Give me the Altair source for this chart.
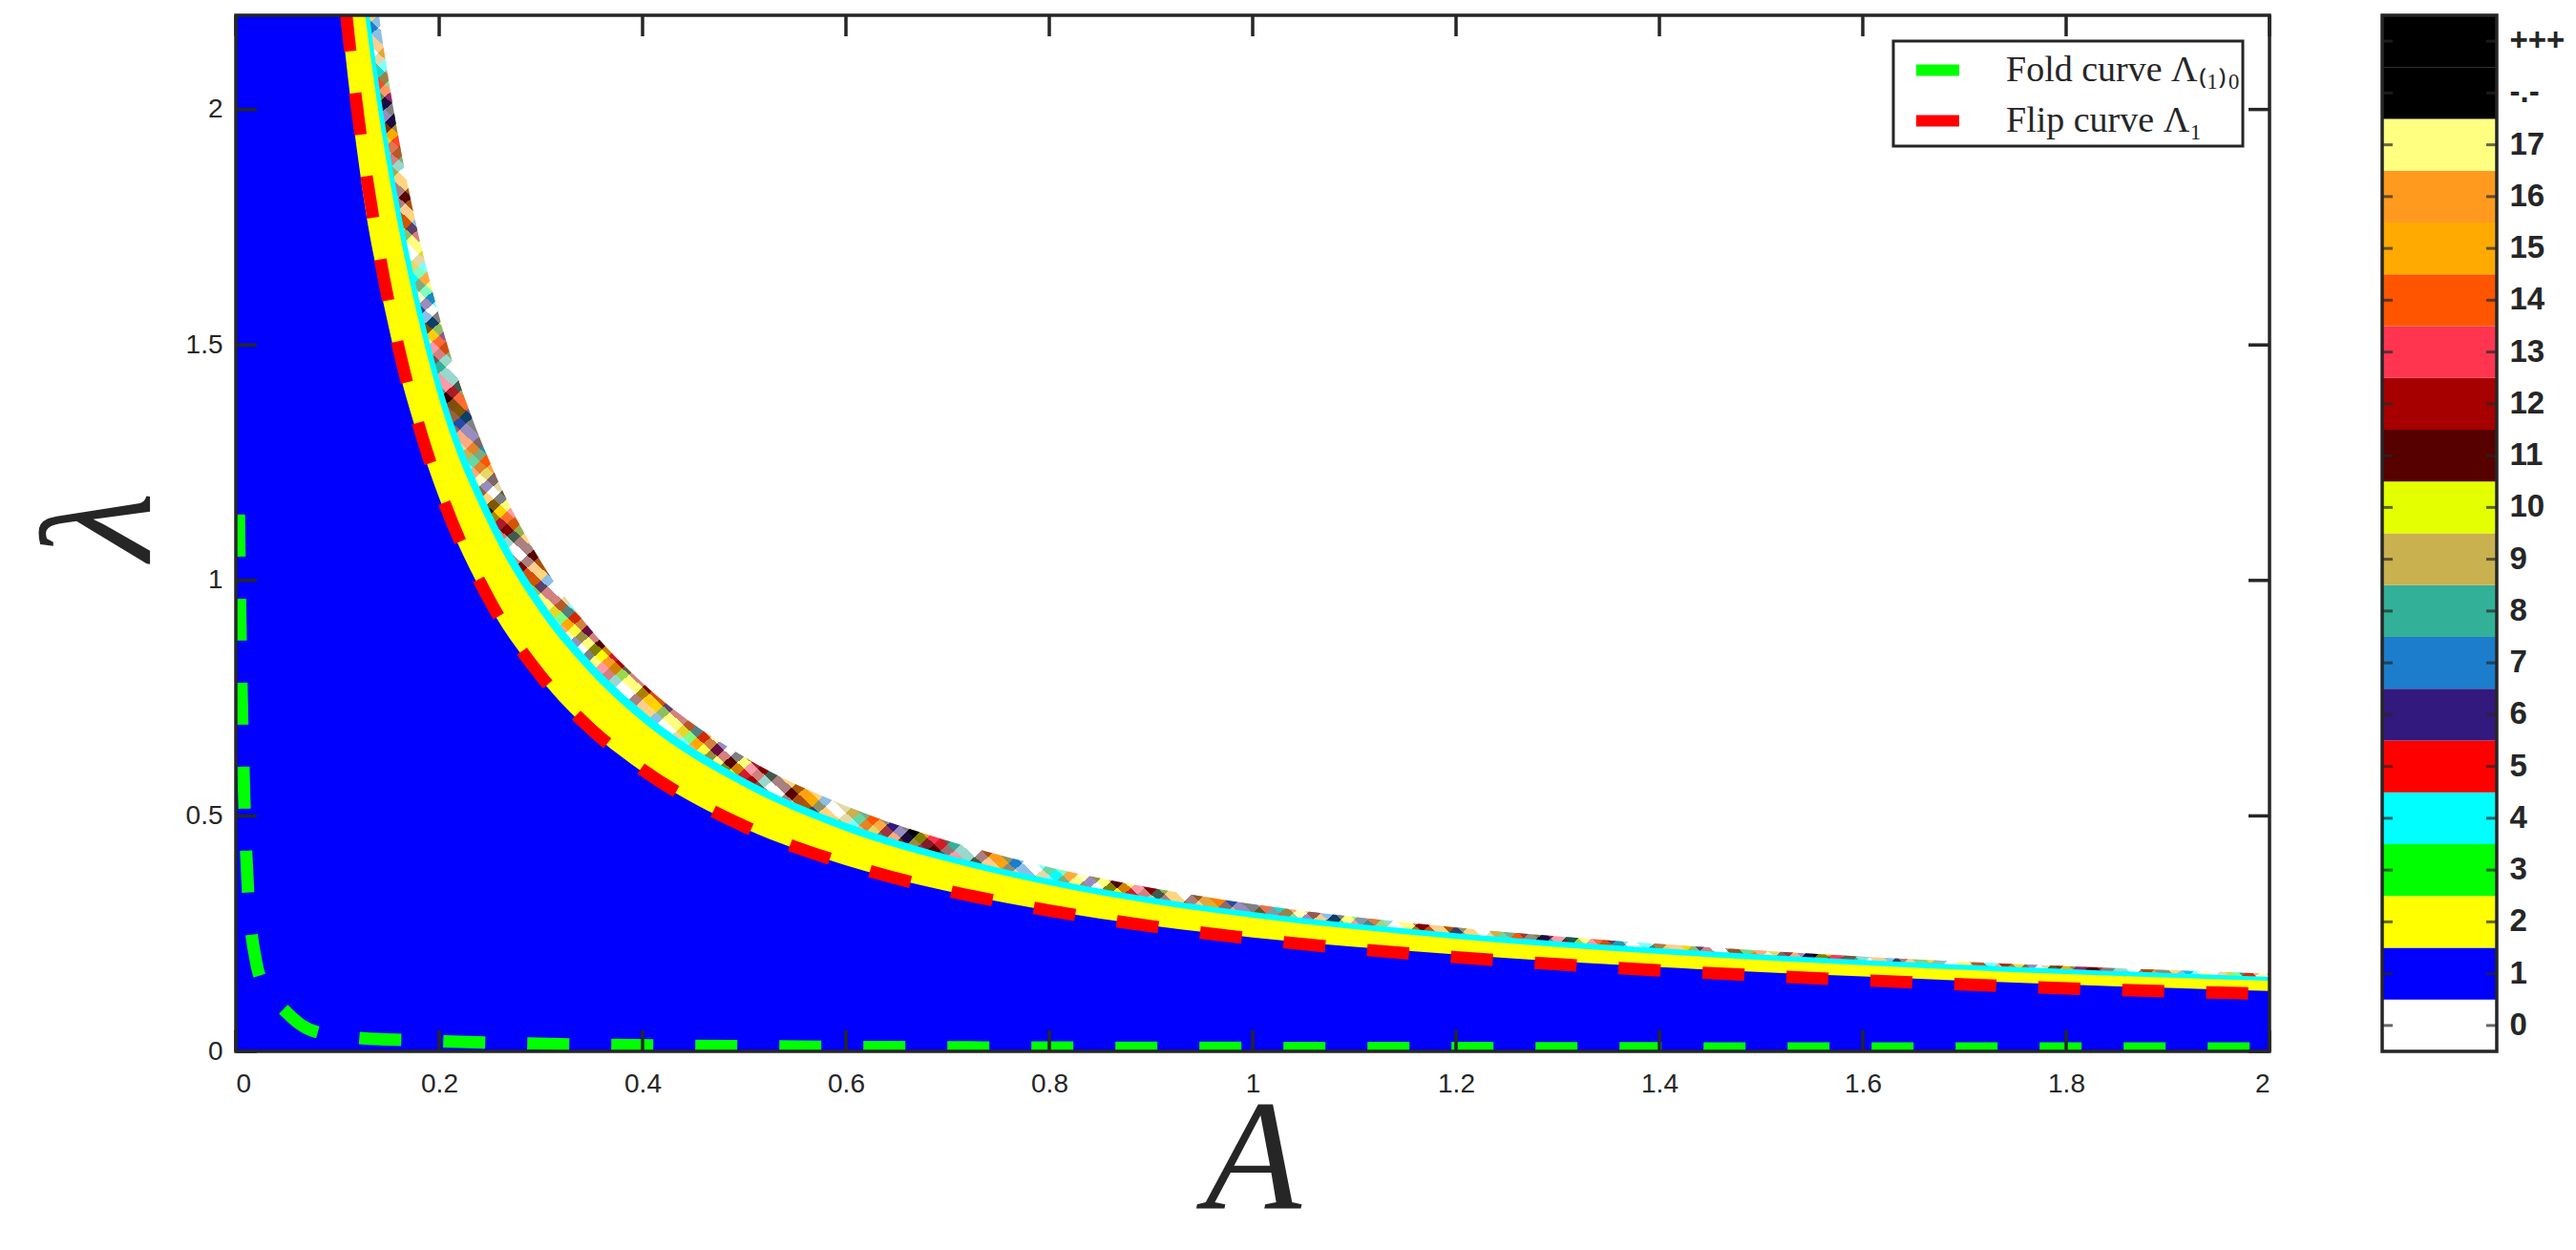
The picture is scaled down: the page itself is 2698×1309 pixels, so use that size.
import altair as alt
import pandas as pd

# lambda values of the region boundaries at each A
a_grid = [0.0, 0.10, 0.11, 0.12, 0.13, 0.14, 0.16, 0.18, 0.20, 0.25, 0.30, 0.35,
          0.40, 0.50, 0.60, 0.70, 0.80, 0.90, 1.00, 1.20, 1.40, 1.60, 1.80, 2.00]
lam_top_1 = [4.0, 2.28, 2.073, 1.90, 1.754, 1.643, 1.45, 1.30, 1.175, 0.944, 0.79, 0.677,
             0.593, 0.474, 0.395, 0.34, 0.299, 0.267, 0.242, 0.206, 0.179, 0.159, 0.142, 0.128]
lam_top_2 = [4.0, 2.80, 2.545, 2.333, 2.154, 2.0, 1.75, 1.55, 1.385, 1.112, 0.93, 0.80,
             0.70, 0.562, 0.468, 0.403, 0.353, 0.314, 0.284, 0.239, 0.207, 0.183, 0.164, 0.150]
lam_top_4 = [4.0, 2.89, 2.627, 2.408, 2.223, 2.064, 1.806, 1.60, 1.43, 1.148, 0.96, 0.825,
             0.723, 0.58, 0.485, 0.417, 0.366, 0.327, 0.296, 0.251, 0.219, 0.194, 0.175, 0.158]
lam_top_chaos = [4.0, 3.10, 2.82, 2.58, 2.38, 2.21, 1.94, 1.73, 1.56, 1.25, 1.04, 0.893,
                 0.782, 0.625, 0.521, 0.447, 0.391, 0.347, 0.313, 0.263, 0.228, 0.201, 0.181, 0.165]

# flip curve Lambda_1
flip_a = [0.10, 0.11, 0.12, 0.14, 0.16, 0.18, 0.20, 0.25, 0.30, 0.35, 0.40, 0.50,
          0.60, 0.70, 0.80, 0.90, 1.00, 1.20, 1.40, 1.60, 1.80, 2.00]
flip_lam = [2.39, 2.173, 1.99, 1.707, 1.494, 1.328, 1.195, 0.956, 0.797, 0.683, 0.598, 0.478,
            0.398, 0.341, 0.299, 0.266, 0.239, 0.200, 0.172, 0.151, 0.134, 0.122]

# fold curve Lambda_(1)_0
fold_a = [0.003, 0.005, 0.008, 0.012, 0.02, 0.03, 0.047, 0.065, 0.087, 0.125, 0.17,
          0.3, 0.5, 0.8, 1.2, 1.6, 2.0]
fold_lam = [1.14, 0.84, 0.56, 0.34, 0.19, 0.13, 0.089, 0.055, 0.037, 0.028, 0.024,
            0.016, 0.011, 0.008, 0.007, 0.006, 0.006]

fold_label = "Fold curve Λ₍₁₎₀"
flip_label = "Flip curve Λ₁"

x_ticks = [0, 0.2, 0.4, 0.6, 0.8, 1, 1.2, 1.4, 1.6, 1.8, 2]
y_ticks = [0, 0.5, 1, 1.5, 2]

# colour bar
cb_levels = ["0", "1", "2", "3", "4", "5", "6", "7", "8", "9", "10", "11", "12",
             "13", "14", "15", "16", "17", "-.-", "+++"]
cb_colors = ["#ffffff", "#0000ff", "#ffff00", "#00ff00", "#00ffff", "#ff0000", "#32197d",
             "#1b7dcb", "#33b098", "#c9b14f", "#e3ff00", "#560000", "#a60000", "#ff3550",
             "#ff5500", "#ffaa00", "#ff9a1e", "#ffff80", "#000000", "#000000"]

# speckle colours for the chaotic fringe
noise_colors = ["#ff9a1e", "#000000", "#ffffff", "#a60000", "#00ffff", "#ffffff", "#32197d",
                "#ffaa00", "#ffff00", "#ffffff", "#33b098", "#ff5500", "#560000", "#ffffff",
                "#1b7dcb", "#ff3550", "#c9b14f", "#ffffff", "#ffff80"]

ink = "#262626"
W, H = 2130, 1085
CB0, CBW = 2248, 120  # colour bar left edge (from the plot's left) and width
sans = "Liberation Sans"
serif = "Liberation Serif"

xs = alt.Scale(domain=[0, 2], nice=False, zero=False)
ys = alt.Scale(domain=[0, 2.2], nice=False, zero=False)

regions = pd.DataFrame({"A": a_grid, "b1": lam_top_1, "b2": lam_top_2,
                        "b4": lam_top_4, "bc": lam_top_chaos})


def stripes(step, n=300):
    stops = []
    for i in range(n):
        c = noise_colors[(i * step) % len(noise_colors)]
        stops.append(alt.GradientStop(offset=i / n, color=c))
        stops.append(alt.GradientStop(offset=(i + 1) / n, color=c))
    return stops


noise_a = alt.LinearGradient(gradient="linear", stops=stripes(7), x1=0, y1=0, x2=1, y2=1)
noise_b = alt.LinearGradient(gradient="linear", stops=stripes(5), x1=1, y1=0, x2=0, y2=1)

x_axis = alt.Axis(values=x_ticks, format="~g", ticks=False, domain=False, grid=False,
                  labelFont=sans, labelFontSize=28, labelColor=ink, labelPadding=20,
                  title="A", titleFont=serif, titleFontSize=165, titleFontStyle="italic",
                  titleFontWeight="normal", titleColor=ink, titleBaseline="alphabetic",
                  titleY=164)
y_axis = alt.Axis(values=y_ticks, format="~g", ticks=False, domain=False, grid=False,
                  labelFont=sans, labelFontSize=28, labelColor=ink, labelPadding=14,
                  title="λ", titleFont=serif, titleFontSize=165, titleFontStyle="italic",
                  titleFontWeight="normal", titleColor=ink, titleBaseline="alphabetic",
                  titleAngle=270, titleX=-91, titleY=H / 2 - 8)


def xq(field):
    return alt.X(f"{field}:Q", scale=xs, axis=x_axis)


def yq(field):
    return alt.Y(f"{field}:Q", scale=ys, axis=y_axis, stack=None)


def region(field, fill, opacity=1.0):
    return alt.Chart(regions).mark_area(
        color=fill, opacity=opacity, interpolate="monotone", clip=True
    ).encode(x=xq("A"), y=yq(field))


chaos = region("bc", noise_a)
chaos_mix = region("bc", noise_b, opacity=0.5)
period4 = region("b4", "#00ffff")
period2 = region("b2", "#ffff00")
period1 = region("b1", "#0000ff")

curves = pd.concat([
    pd.DataFrame({"A": fold_a, "lam": fold_lam, "curve": fold_label,
                  "k": list(range(len(fold_a)))}),
    pd.DataFrame({"A": flip_a, "lam": flip_lam, "curve": flip_label,
                  "k": list(range(len(flip_a)))}),
])
lines = alt.Chart(curves).mark_line(
    strokeWidth=13, strokeDash=[44, 44], clip=True, interpolate="monotone"
).encode(
    x=xq("A"),
    y=yq("lam"),
    color=alt.Color(
        "curve:N",
        scale=alt.Scale(domain=[fold_label, flip_label], range=["#00ff00", "#ff0000"]),
        legend=alt.Legend(
            title=None, orient="none", legendX=1736, legendY=27,
            fillColor="#ffffff", strokeColor=ink, padding=2,
            labelFont=serif, labelFontSize=38, labelColor=ink, labelOffset=43,
            symbolType="stroke", symbolSize=2025, symbolStrokeWidth=12,
            symbolOffset=16, rowPadding=-12, labelLimit=400,
        ),
    ),
    order="k:Q",
)

xt = pd.DataFrame({"v": x_ticks})
yt = pd.DataFrame({"v": y_ticks})
ticks = [
    alt.Chart(xt).mark_rule(color=ink, strokeWidth=3.5).encode(
        x=xq("v"), y=alt.value(H), y2=alt.value(H - 22)),
    alt.Chart(xt).mark_rule(color=ink, strokeWidth=3.5).encode(
        x=xq("v"), y=alt.value(0), y2=alt.value(22)),
    alt.Chart(yt).mark_rule(color=ink, strokeWidth=3.5).encode(
        y=yq("v"), x=alt.value(0), x2=alt.value(22)),
    alt.Chart(yt).mark_rule(color=ink, strokeWidth=3.5).encode(
        y=yq("v"), x=alt.value(W), x2=alt.value(W - 22)),
]

frame_df = pd.DataFrame({"k": [0]})
frame = alt.Chart(frame_df).mark_rect(filled=False, stroke=ink, strokeWidth=3.5).encode(
    x=alt.value(0), x2=alt.value(W), y=alt.value(0), y2=alt.value(H))

main = alt.layer(chaos, chaos_mix, period4, period2, period1, lines, *ticks, frame)

# colour bar, drawn to the right of the plot with its own band scale
cb = pd.DataFrame({"level": cb_levels, "hex": cb_colors})
cb_sort = list(reversed(cb_levels))
cb_scale = alt.Scale(paddingInner=0, paddingOuter=0)
cb_axis = alt.Axis(orient="right", offset=CB0 + CBW - W, ticks=False, domain=False,
                   title=None, labelFont=sans, labelFontSize=33, labelFontWeight="bold",
                   labelColor=ink, labelPadding=13)
cb_y = alt.Y("level:N", sort=cb_sort, scale=cb_scale, axis=cb_axis)
cb_rects = alt.Chart(cb).mark_rect().encode(
    y=cb_y, color=alt.Color("hex:N", scale=None),
    x=alt.value(CB0), x2=alt.value(CB0 + CBW))
cb_ticks_l = alt.Chart(cb).mark_tick(orient="horizontal", size=11, thickness=3, color=ink).encode(
    y=cb_y, x=alt.value(CB0 + 5.5))
cb_ticks_r = alt.Chart(cb).mark_tick(orient="horizontal", size=11, thickness=3, color=ink).encode(
    y=cb_y, x=alt.value(CB0 + CBW - 5.5))
cb_frame = alt.Chart(frame_df).mark_rect(filled=False, stroke=ink, strokeWidth=3.5).encode(
    x=alt.value(CB0), x2=alt.value(CB0 + CBW), y=alt.value(0), y2=alt.value(H))
colorbar = alt.layer(cb_rects, cb_ticks_l, cb_ticks_r, cb_frame)

chart = alt.layer(main, colorbar).resolve_scale(
    y="independent", color="independent"
).properties(
    width=W, height=H,
    autosize=alt.AutoSizeParams(type="none"),
    padding={"left": 239, "top": 8, "right": 313, "bottom": 200}
).configure_view(strokeWidth=0).configure_legend(strokeWidth=3)

chart.save("out.html", embed_options={"renderer": "svg", "actions": False})
